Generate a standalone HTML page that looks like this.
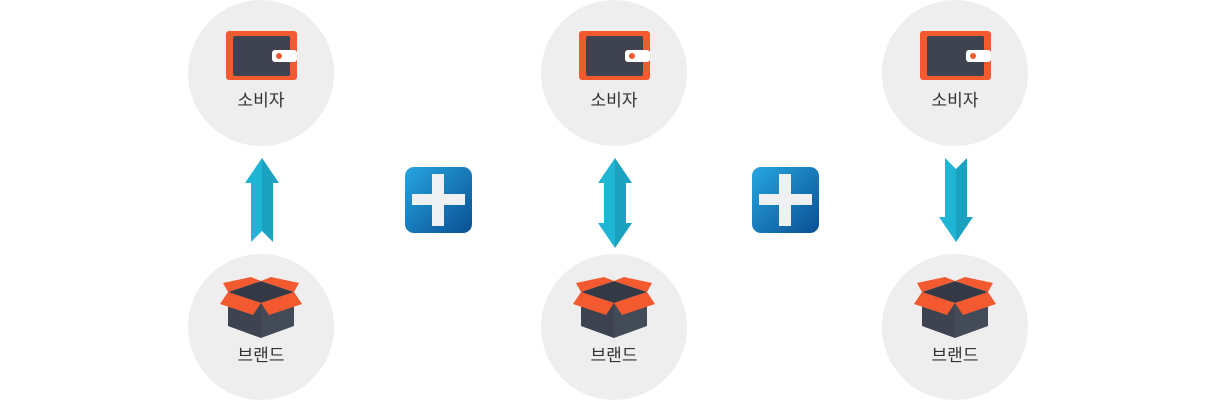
<!DOCTYPE html>
<html><head><meta charset="utf-8"><style>
body{margin:0;width:1230px;height:400px;background:#fff;overflow:hidden;font-family:"Liberation Sans","Noto Sans CJK KR",sans-serif}
svg{display:block}
</style></head><body>
<svg width="1230" height="400" viewBox="0 0 1230 400" xmlns="http://www.w3.org/2000/svg">
<defs>
<linearGradient id="pg" x1="0" y1="0" x2="1" y2="1"><stop offset="0" stop-color="#26a6e0"/><stop offset="1" stop-color="#0a4f93"/></linearGradient>
<g id="wallet">
<rect x="-35" y="-42" width="71" height="49" rx="3" fill="#f45a30"/>
<rect x="-28" y="-37" width="57" height="40" rx="2" fill="#3d4350"/>
<rect x="11" y="-23" width="25" height="12" rx="3" fill="#fff"/>
<circle cx="18" cy="-17" r="3" fill="#f45a30"/>
<text x="0" y="33" text-anchor="middle" font-size="17" fill="#333">소비자</text>
</g>
<g id="box">
<polygon points="-33,-35 0,-24 0,11 -33,-1" fill="#3d4350"/>
<polygon points="33,-35 0,-24 0,11 33,-1" fill="#444b58"/>
<polygon points="-33,-35 0,-46 33,-35 0,-24" fill="#333945"/>
<polygon points="-33,-35 -41,-23 -8,-12 0,-24" fill="#f45a30"/>
<polygon points="33,-35 41,-23 8,-12 0,-24" fill="#f45a30"/>
<polygon points="-33,-35 -38,-44 -10,-50 0,-46" fill="#f45a30"/>
<polygon points="33,-35 38,-44 10,-50 0,-46" fill="#f45a30"/>
<text x="0" y="34" text-anchor="middle" font-size="17" fill="#333">브랜드</text>
</g>
<g id="plus">
<rect x="0" y="0" width="67" height="66" rx="9" fill="url(#pg)"/>
<rect x="7" y="27" width="53" height="11" fill="#eef0f2"/>
<rect x="27" y="7" width="12" height="52" fill="#eef0f2"/>
</g>
</defs>
<g fill="#eeeeee">
<circle cx="261" cy="73" r="73"/><circle cx="261" cy="327" r="73"/>
<circle cx="614" cy="73" r="73"/><circle cx="614" cy="327" r="73"/>
<circle cx="955" cy="73" r="73"/><circle cx="955" cy="327" r="73"/>
</g>
<use href="#wallet" x="261" y="73"/><use href="#wallet" x="614" y="73"/><use href="#wallet" x="955" y="73"/>
<use href="#box" x="261" y="327"/><use href="#box" x="614" y="327"/><use href="#box" x="955" y="327"/>
<use href="#plus" x="405" y="167"/><use href="#plus" x="752" y="167"/>
<!-- up arrow -->
<polygon points="262,158 245,183 251,183 251,242 262,231 262,158" fill="#1fb6d6"/>
<polygon points="262,158 279,183 273,183 273,242 262,231" fill="#1ba2c0"/>
<!-- double arrow -->
<polygon points="615,158 598,183 604,183 604,223 598,223 615,248" fill="#1fb6d6"/>
<polygon points="615,158 632,183 626,183 626,223 632,223 615,248" fill="#1ba2c0"/>
<!-- down arrow -->
<polygon points="956,242 939,217 945,217 945,158 956,169" fill="#1fb6d6"/>
<polygon points="956,242 973,217 967,217 967,158 956,169" fill="#1ba2c0"/>
</svg>
</body></html>
